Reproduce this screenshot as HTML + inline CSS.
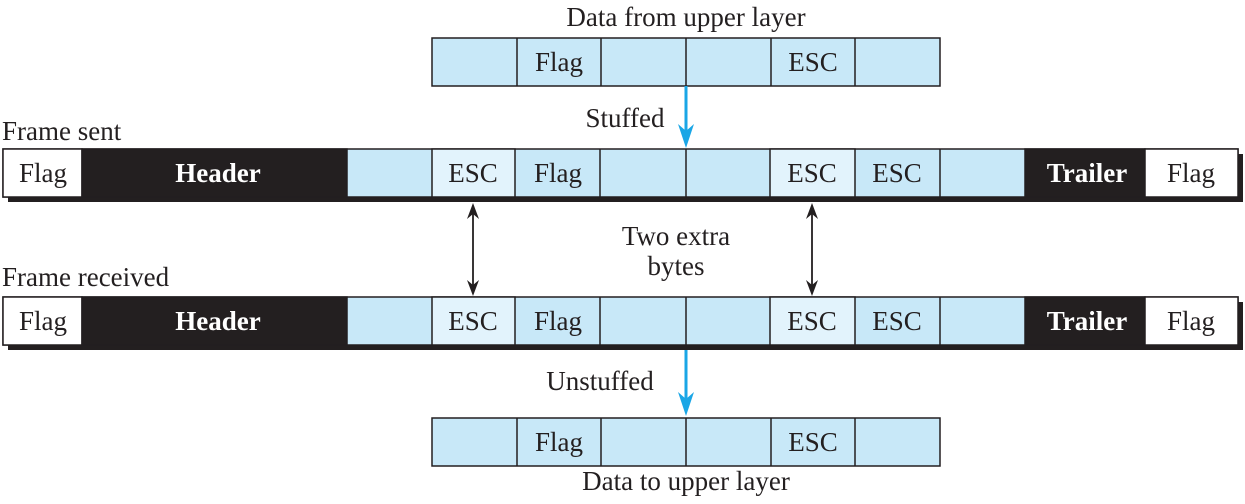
<!DOCTYPE html>
<html><head><style>
body{margin:0;background:#fff}
svg{display:block}
text{font-family:"Liberation Serif",serif;font-size:27px;fill:#231f20}
.b{font-weight:bold;fill:#fff}
</style></head><body>
<svg width="1245" height="504" xmlns="http://www.w3.org/2000/svg">
<text x="686" y="26" text-anchor="middle">Data from upper layer</text>
<g stroke="#231f20" stroke-width="1.5">
<rect x="432" y="38" width="508" height="48" fill="#c8e8f8"/>
<line x1="517" y1="38" x2="517" y2="86"/><line x1="601" y1="38" x2="601" y2="86"/><line x1="686" y1="38" x2="686" y2="86"/><line x1="771" y1="38" x2="771" y2="86"/><line x1="855" y1="38" x2="855" y2="86"/>
</g>
<text x="559" y="71" text-anchor="middle">Flag</text><text x="813" y="71" text-anchor="middle">ESC</text>
<text x="625" y="127" text-anchor="middle">Stuffed</text>
<line x1="686" y1="86" x2="686" y2="140" stroke="#1aa6e6" stroke-width="3"/>
<path d="M678,124 L686,148 L694,124 L686,131 Z" fill="#1aa6e6"/>
<text x="2" y="140">Frame sent</text>
<text x="2" y="286">Frame received</text>
<g id="fr">
<rect x="8" y="154" width="1235" height="48" fill="#231f20"/>
<g stroke="#231f20" stroke-width="1.5">
<rect x="3" y="149" width="1235" height="48" fill="#c8e8f8"/>
<rect x="3" y="149" width="79" height="48" fill="#fff"/>
<rect x="82" y="149" width="265" height="48" fill="#231f20"/>
<rect x="432" y="149" width="83" height="48" fill="#e2f3fc"/>
<rect x="770" y="149" width="85" height="48" fill="#e2f3fc"/>
<rect x="1025" y="149" width="120" height="48" fill="#231f20"/>
<rect x="1145" y="149" width="93" height="48" fill="#fff"/>
<line x1="600" y1="149" x2="600" y2="197"/><line x1="686" y1="149" x2="686" y2="197"/><line x1="940" y1="149" x2="940" y2="197"/>
</g>
<text x="43" y="182" text-anchor="middle">Flag</text>
<text class="b" x="218" y="182" text-anchor="middle">Header</text>
<text x="473" y="182" text-anchor="middle">ESC</text>
<text x="558" y="182" text-anchor="middle">Flag</text>
<text x="812" y="182" text-anchor="middle">ESC</text>
<text x="897" y="182" text-anchor="middle">ESC</text>
<text class="b" x="1087" y="182" text-anchor="middle">Trailer</text>
<text x="1191" y="182" text-anchor="middle">Flag</text>
</g>
<use href="#fr" transform="translate(0,148)"/>
<g fill="#231f20" stroke="#231f20">
<line x1="473" y1="210" x2="473" y2="290" stroke-width="1.8"/>
<path d="M467,219 L473,203 L479,219 L473,214 Z" stroke="none"/>
<path d="M467,280 L473,296 L479,280 L473,285 Z" stroke="none"/>
<line x1="812" y1="210" x2="812" y2="290" stroke-width="1.8"/>
<path d="M806,219 L812,203 L818,219 L812,214 Z" stroke="none"/>
<path d="M806,280 L812,296 L818,280 L812,285 Z" stroke="none"/>
</g>
<text x="676" y="245" text-anchor="middle">Two extra</text>
<text x="676" y="275" text-anchor="middle">bytes</text>
<text x="600" y="390" text-anchor="middle">Unstuffed</text>
<line x1="686" y1="350" x2="686" y2="404" stroke="#1aa6e6" stroke-width="3"/>
<path d="M678,392 L686,416 L694,392 L686,399 Z" fill="#1aa6e6"/>
<g stroke="#231f20" stroke-width="1.5">
<rect x="432" y="418" width="508" height="48" fill="#c8e8f8"/>
<line x1="517" y1="418" x2="517" y2="466"/><line x1="601" y1="418" x2="601" y2="466"/><line x1="686" y1="418" x2="686" y2="466"/><line x1="771" y1="418" x2="771" y2="466"/><line x1="855" y1="418" x2="855" y2="466"/>
</g>
<text x="559" y="451" text-anchor="middle">Flag</text><text x="813" y="451" text-anchor="middle">ESC</text>
<text x="686" y="490" text-anchor="middle">Data to upper layer</text>
</svg>
</body></html>
